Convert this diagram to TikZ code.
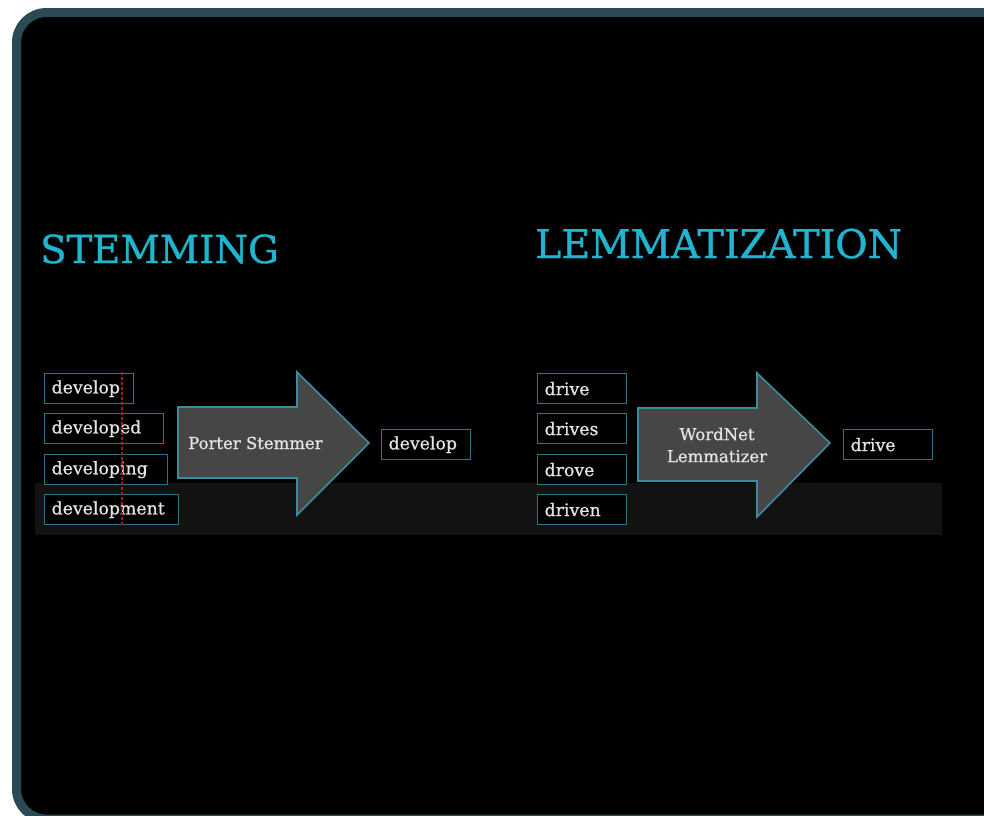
\documentclass[tikz,border=0pt]{standalone}
\usepackage{fontspec}
\setmainfont{DejaVu Serif}
\newfontfamily\slab{DejaVu Serif}[FakeBold=0.8]
\newfontfamily\slabt{DejaVu Serif}[FakeBold=1]
\definecolor{framecol}{HTML}{2A4A56}
\definecolor{titlecyan}{HTML}{1FB5CE}
\definecolor{boxteal}{HTML}{2C7582}
\definecolor{arrowfill}{HTML}{464646}
\definecolor{arrowedge}{HTML}{3A8D9D}
\definecolor{wordtext}{HTML}{E4E4E4}
\definecolor{bandcol}{HTML}{121212}
\definecolor{cutred}{HTML}{B0161C}
\tikzset{
  title/.style={text=titlecyan, inner sep=0pt, anchor=base west},
  wbox/.style={draw=boxteal, fill=black, line width=1.3pt, text=wordtext,
    font=\slab\fontsize{17.3}{20}\selectfont, inner xsep=7pt, inner ysep=0pt,
    minimum height=30pt, anchor=north west, align=left},
  bigarrow/.style={fill=arrowfill, draw=arrowedge, line width=1.6pt, line join=miter},
  arrowtext/.style={text=wordtext, font=\slab\fontsize{16.5}{22}\selectfont, align=center, inner sep=0pt},
  cutline/.style={draw=cutred, line width=1.3pt, dash pattern=on 3pt off 2pt}
}
\begin{document}
\begin{tikzpicture}[x=1pt,y=-1pt]
\useasboundingbox (0,0) rectangle (984,815);
\clip (0,0) rectangle (984,815);
\fill[white] (0,0) rectangle (984,815);
% frame
\draw[line width=9pt, draw=framecol, fill=black, rounded corners=30pt] (16.5,12.5) rectangle (1020,819);
% titles
\node[title, font=\slabt\fontsize{38.5}{42}\selectfont] (stem) at (40,263) {STEMMING};
\node[title, font=\slabt\fontsize{39.5}{42}\selectfont] (lemma) at (535,258) {LEMMATIZATION};
% band
\fill[bandcol] (35,483) rectangle (942,535);
% stemming words
\node[wbox, text width=75pt] (d1) at (44,373) {develop};
\node[wbox, text width=105pt] (d2) at (44,413) {developed};
\node[wbox, text width=109pt] (d3) at (44,454) {developing};
\node[wbox, text width=120pt] (d4) at (44,494) {development};
\coordinate (cuttop) at (122,372);
\coordinate (cutbot) at (122,525);
\draw[cutline] (cuttop) -- (cutbot);
% arrow 1
\draw[bigarrow] (178,407) -- (297,407) -- (297,372) -- (369,443) -- (297,515) -- (297,478) -- (178,478) -- cycle;
\node[arrowtext, anchor=west] (porter) at (188,443) {Porter Stemmer};
\node[wbox, text width=75pt] (dout) at (381,429) {develop};
% lemmatization words
\node[wbox, text width=75pt] (r1) at (537,373) {drive};
\node[wbox, text width=75pt] (r2) at (537,413) {drives};
\node[wbox, text width=75pt] (r3) at (537,454) {drove};
\node[wbox, text width=75pt] (r4) at (537,494) {driven};
% arrow 2
\draw[bigarrow] (638,408) -- (757,408) -- (757,373) -- (830,443) -- (757,517) -- (757,481) -- (638,481) -- cycle;
\node[arrowtext] (wordnet) at (717,445) {WordNet\\Lemmatizer};
\node[wbox, text width=75pt] (rout) at (843,429) {drive};
\end{tikzpicture}
\end{document}
